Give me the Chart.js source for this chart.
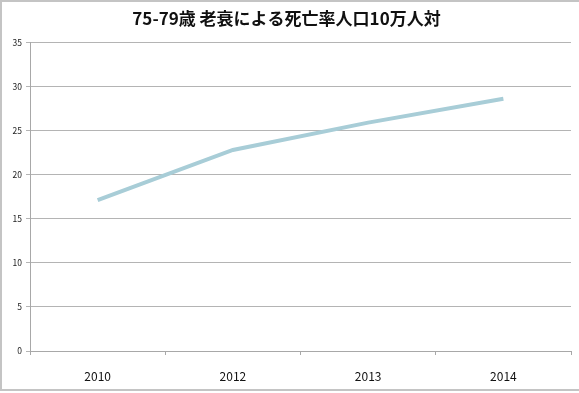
<!DOCTYPE html>
<html>
<head>
<meta charset="utf-8">
<script src="https://cdn.jsdelivr.net/npm/chart.js@4/dist/chart.umd.min.js"></script>
<style>
  html, body { margin: 0; padding: 0; background: #fff; }
  #wrap { width: 579px; height: 393px; position: relative; }
</style>
</head>
<body>
<div id="wrap"><canvas id="c" width="579" height="393"></canvas></div>
<script>
// Data
const years = ['2010', '2012', '2013', '2014'];
const rates = [17.1, 22.8, 25.9, 28.6];
const titleText = '75-79歳 老衰による死亡率人口10万人対';

const jpFont = '"Noto Sans CJK JP", "Liberation Sans", sans-serif';

// white background + grey frame like the spreadsheet chart box
const frame = {
  id: 'frame',
  beforeDraw(chart) {
    const { ctx, width } = chart;
    ctx.save();
    ctx.fillStyle = '#fff';
    ctx.fillRect(0, 0, width, chart.height);
    ctx.fillStyle = '#c4c4c4';
    ctx.fillRect(0, 0, width, 2);
    ctx.fillRect(0, 0, 2, 391);
    ctx.fillRect(0, 389, width, 2);
    ctx.restore();
  }
};

new Chart(document.getElementById('c'), {
  type: 'line',
  data: {
    labels: years,
    datasets: [{
      data: rates,
      borderColor: '#a8cdd7',
      borderWidth: 4,
      pointRadius: 0,
      tension: 0,
      fill: false
    }]
  },
  options: {
    responsive: false,
    animation: false,
    layout: { padding: { left: 2, right: 8, top: 2, bottom: 3 } },
    plugins: {
      legend: { display: false },
      tooltip: { enabled: false },
      title: {
        display: true,
        text: titleText,
        color: '#111',
        font: { family: jpFont, size: 17, weight: 'bold' },
        padding: { top: 6, bottom: 14 }
      }
    },
    scales: {
      x: {
        offset: true,
        grid: { drawOnChartArea: false, drawTicks: true, tickLength: 4, color: '#a8a8a8', offset: true },
        border: { color: '#a8a8a8', width: 1 },
        ticks: { color: '#111', font: { family: jpFont, size: 12 }, padding: 14 },
        afterFit(s) { s.height = 39; }
      },
      y: {
        min: 0,
        max: 35,
        grid: { color: '#b4b4b4', tickLength: 4 },
        border: { color: '#a8a8a8', width: 1 },
        ticks: { stepSize: 5, color: '#222', font: { family: jpFont, size: 8.5 }, padding: 4 },
        afterFit(s) { s.width = 28; }
      }
    }
  },
  plugins: [frame]
});
</script>
</body>
</html>
